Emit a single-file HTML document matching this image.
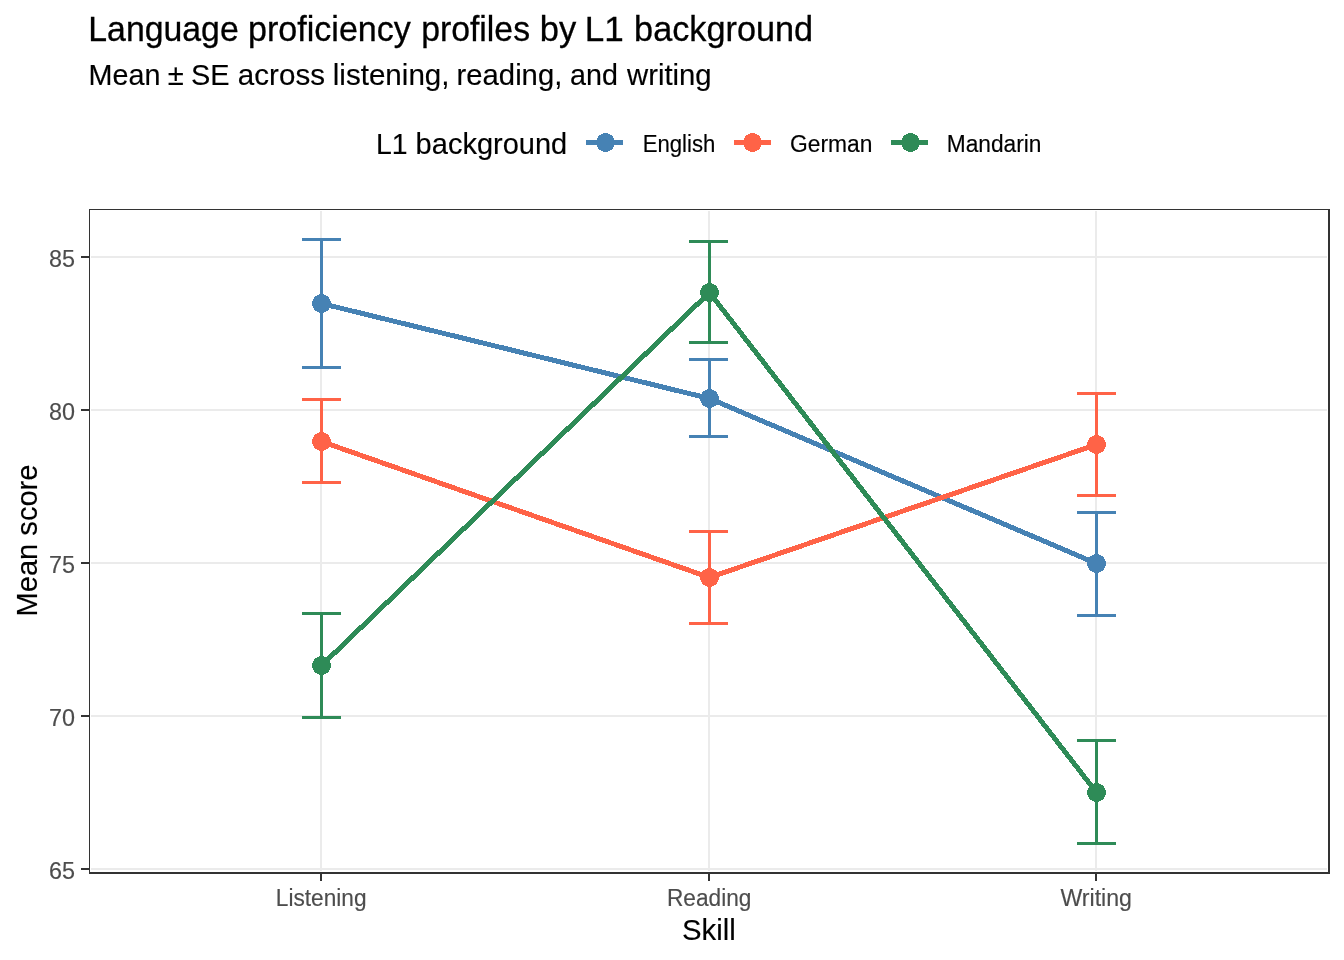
<!DOCTYPE html>
<html lang="en"><head><meta charset="utf-8"><title>Language proficiency profiles by L1 background</title>
<style>html,body{margin:0;padding:0;background:#fff}body{width:1344px;height:960px;overflow:hidden}svg{display:block}text{font-family:"Liberation Sans",Arial,sans-serif}</style></head><body>
<svg width="1344" height="960" viewBox="0 0 1344 960">
<rect width="1344" height="960" fill="#fff"/>
<g fill="#EBEBEB" shape-rendering="crispEdges">
<rect x="91" y="256" width="1236" height="2"/>
<rect x="91" y="409" width="1236" height="2"/>
<rect x="91" y="562" width="1236" height="2"/>
<rect x="91" y="715" width="1236" height="2"/>
<rect x="91" y="868" width="1236" height="2"/>
<rect x="320" y="211" width="2" height="660"/>
<rect x="708" y="211" width="2" height="660"/>
<rect x="1095" y="211" width="2" height="660"/>
</g>
<g fill="none" stroke-width="5" stroke-linejoin="round" stroke-linecap="butt" shape-rendering="crispEdges">
<polyline stroke="#4682B4" points="321.5,303.5 709.5,398.5 1096.5,563.5"/>
<polyline stroke="#FF6347" points="321.5,441.5 709.5,577.5 1096.5,444.5"/>
<polyline stroke="#2E8B57" points="321.5,665.5 709.5,292.5 1096.5,792.5"/>
</g>
<g shape-rendering="crispEdges">
<path fill="#4682B4" d="M302,238h39v3h-39zM302,366h39v3h-39zM320,238h3v131h-3z"/>
<path fill="#4682B4" d="M689,358h39v3h-39zM689,435h39v3h-39zM708,358h3v80h-3z"/>
<path fill="#4682B4" d="M1077,511h39v3h-39zM1077,614h39v3h-39zM1095,511h3v106h-3z"/>
<path fill="#FF6347" d="M302,398h39v3h-39zM302,481h39v3h-39zM320,398h3v86h-3z"/>
<path fill="#FF6347" d="M689,530h39v3h-39zM689,622h39v3h-39zM708,530h3v95h-3z"/>
<path fill="#FF6347" d="M1077,392h39v3h-39zM1077,494h39v3h-39zM1095,392h3v105h-3z"/>
<path fill="#2E8B57" d="M302,612h39v3h-39zM302,716h39v3h-39zM320,612h3v107h-3z"/>
<path fill="#2E8B57" d="M689,240h39v3h-39zM689,341h39v3h-39zM708,240h3v104h-3z"/>
<path fill="#2E8B57" d="M1077,739h39v3h-39zM1077,842h39v3h-39zM1095,739h3v106h-3z"/>
</g>
<g shape-rendering="crispEdges">
<circle cx="321.5" cy="303.5" r="9.5" fill="#4682B4"/>
<circle cx="709.5" cy="398.5" r="9.5" fill="#4682B4"/>
<circle cx="1096.5" cy="563.5" r="9.5" fill="#4682B4"/>
<circle cx="321.5" cy="441.5" r="9.5" fill="#FF6347"/>
<circle cx="709.5" cy="577.5" r="9.5" fill="#FF6347"/>
<circle cx="1096.5" cy="444.5" r="9.5" fill="#FF6347"/>
<circle cx="321.5" cy="665.5" r="9.5" fill="#2E8B57"/>
<circle cx="709.5" cy="292.5" r="9.5" fill="#2E8B57"/>
<circle cx="1096.5" cy="792.5" r="9.5" fill="#2E8B57"/>
</g>
<g shape-rendering="crispEdges"><rect x="89" y="209" width="1" height="665" fill="#333"/><rect x="89" y="209" width="1241" height="1" fill="#333"/><rect x="1328" y="209" width="2" height="665" fill="#333333"/><rect x="89" y="872" width="1241" height="2" fill="#333333"/></g>
<g fill="#333333" shape-rendering="crispEdges">
<rect x="81" y="256" width="8" height="2"/>
<rect x="81" y="409" width="8" height="2"/>
<rect x="81" y="562" width="8" height="2"/>
<rect x="81" y="715" width="8" height="2"/>
<rect x="81" y="868" width="8" height="2"/>
<rect x="320" y="874" width="2" height="7"/>
<rect x="708" y="874" width="2" height="7"/>
<rect x="1095" y="874" width="2" height="7"/>
</g>
<g fill="#4D4D4D" font-size="23.3" stroke="#4D4D4D" stroke-width="0.15">
<text x="75" y="267.0" text-anchor="end" textLength="26" lengthAdjust="spacingAndGlyphs">85</text>
<text x="75" y="420.0" text-anchor="end" textLength="26" lengthAdjust="spacingAndGlyphs">80</text>
<text x="75" y="573.0" text-anchor="end" textLength="26" lengthAdjust="spacingAndGlyphs">75</text>
<text x="75" y="726.0" text-anchor="end" textLength="26" lengthAdjust="spacingAndGlyphs">70</text>
<text x="75" y="879.0" text-anchor="end" textLength="26" lengthAdjust="spacingAndGlyphs">65</text>
<text x="321.2" y="905.9" text-anchor="middle" textLength="90.7" lengthAdjust="spacingAndGlyphs">Listening</text>
<text x="709.2" y="905.9" text-anchor="middle" textLength="84.4" lengthAdjust="spacingAndGlyphs">Reading</text>
<text x="1096.2" y="905.9" text-anchor="middle" textLength="71.6" lengthAdjust="spacingAndGlyphs">Writing</text>
</g>
<text x="708.8" y="939.6" font-size="29.3" text-anchor="middle" fill="#000" stroke="#000" stroke-width="0.15">Skill</text>
<text transform="translate(37.1,540.5) rotate(-90)" font-size="29.3" text-anchor="middle" fill="#000" stroke="#000" stroke-width="0.15" textLength="152" lengthAdjust="spacingAndGlyphs">Mean score</text>
<text y="41" font-size="34.6" fill="#000" stroke="#000" stroke-width="0.3"><tspan x="88.32" textLength="150.4" lengthAdjust="spacingAndGlyphs">Language</tspan> <tspan x="248.03" textLength="162.85" lengthAdjust="spacingAndGlyphs">proficiency</tspan> <tspan x="421.15" textLength="108.89" lengthAdjust="spacingAndGlyphs">profiles</tspan> <tspan x="539.71" textLength="36.42" lengthAdjust="spacingAndGlyphs">by</tspan> <tspan x="584.86" textLength="38.99" lengthAdjust="spacingAndGlyphs">L1</tspan> <tspan x="634.12" textLength="178.98" lengthAdjust="spacingAndGlyphs">background</tspan></text>
<text y="85" font-size="29.2" fill="#000" stroke="#000" stroke-width="0.15"><tspan x="88.53" textLength="71.85" lengthAdjust="spacingAndGlyphs">Mean</tspan> <tspan x="167.8" textLength="16.03" lengthAdjust="spacingAndGlyphs">±</tspan> <tspan x="190.92" textLength="38.61" lengthAdjust="spacingAndGlyphs">SE</tspan> <tspan x="237.89" textLength="87.09" lengthAdjust="spacingAndGlyphs">across</tspan> <tspan x="332.77" textLength="116.76" lengthAdjust="spacingAndGlyphs">listening,</tspan> <tspan x="456.6" textLength="105.69" lengthAdjust="spacingAndGlyphs">reading,</tspan> <tspan x="570.12" textLength="47.86" lengthAdjust="spacingAndGlyphs">and</tspan> <tspan x="627.0" textLength="84.65" lengthAdjust="spacingAndGlyphs">writing</tspan></text>
<text y="153.9" font-size="29.2" fill="#000" stroke="#000" stroke-width="0.15"><tspan x="376.05" textLength="31.6" lengthAdjust="spacingAndGlyphs">L1</tspan> <tspan x="415.61" textLength="151.63" lengthAdjust="spacingAndGlyphs">background</tspan></text>
<g shape-rendering="crispEdges" fill="#4682B4"><rect x="586" y="140" width="37" height="5"/><circle cx="605.5" cy="142.5" r="9.5"/></g>
<text x="642.7" y="151.9" font-size="23.3" fill="#000" stroke="#000" stroke-width="0.15" textLength="72.7" lengthAdjust="spacingAndGlyphs">English</text>
<g shape-rendering="crispEdges" fill="#FF6347"><rect x="734" y="140" width="37" height="5"/><circle cx="752.5" cy="142.5" r="9.5"/></g>
<text x="790.1" y="151.9" font-size="23.3" fill="#000" stroke="#000" stroke-width="0.15" textLength="82.4" lengthAdjust="spacingAndGlyphs">German</text>
<g shape-rendering="crispEdges" fill="#2E8B57"><rect x="891" y="140" width="37" height="5"/><circle cx="910.5" cy="142.5" r="9.5"/></g>
<text x="946.7" y="151.9" font-size="23.3" fill="#000" stroke="#000" stroke-width="0.15" textLength="94.8" lengthAdjust="spacingAndGlyphs">Mandarin</text>
</svg></body></html>
